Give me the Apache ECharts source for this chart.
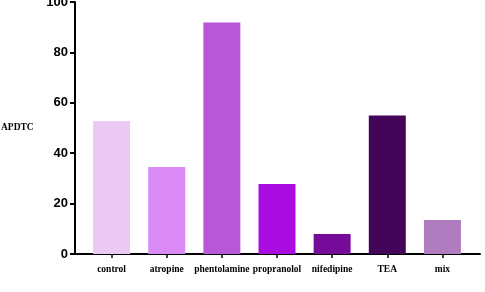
<!DOCTYPE html>
<html><head><meta charset="utf-8">
<script src="https://cdn.jsdelivr.net/npm/echarts@6/dist/echarts.min.js"></script>
<style>html,body{margin:0;padding:0;background:#fff}#c{width:485px;height:292px}</style>
</head><body><div id="c"></div>
<script>
const categories = ['control','atropine','phentolamine','propranolol','nifedipine','TEA','mix'];
const values = [52.8, 34.5, 91.9, 27.8, 7.9, 55.0, 13.5];
const colors = ['#ECC8F5','#DA8AF5','#B857D8','#AA0BE0','#760B9A','#430558','#B07CC0'];
const yTicks = [0, 20, 40, 60, 80, 100];
const yName = 'APDTC';

const chart = echarts.init(document.getElementById('c'), null, {renderer:'canvas'});
chart.setOption({
  animation: false,
  grid: [
    {left: 84, right: 15, top: 2, bottom: 38, outerBoundsMode:'none', containLabel:false},
    {left: 75, right: 5, top: 2, bottom: 38, outerBoundsMode:'none', containLabel:false}
  ],
  xAxis: [
    {type:'category', gridIndex:0, data: categories,
     axisLine:{show:false},
     axisTick:{show:true, alignWithLabel:true, length:4, lineStyle:{color:'#000', width:1.5}},
     axisLabel:{color:'#000', fontFamily:'Liberation Serif', fontWeight:'bold', fontSize:9.5, margin:11, interval:0}},
    {type:'value', gridIndex:1, min:0, max:1,
     axisLine:{show:true, lineStyle:{color:'#000', width:2}},
     axisTick:{show:false}, axisLabel:{show:false}, splitLine:{show:false}}
  ],
  yAxis: [
    {type:'value', gridIndex:0, min:0, max:100, show:false},
    {type:'value', gridIndex:1, min:yTicks[0], max:yTicks[yTicks.length-1], interval:20,
     name: yName, nameLocation:'middle', nameRotate:0, nameGap:74,
     nameTextStyle:{color:'#000', fontFamily:'Liberation Serif', fontWeight:'bold', fontSize:9.5, align:'left'},
     axisLine:{show:true, lineStyle:{color:'#000', width:2}},
     axisTick:{show:true, length:5, lineStyle:{color:'#000', width:2}},
     axisLabel:{color:'#000', fontFamily:'Liberation Sans', fontWeight:'bold', fontSize:13, margin:7},
     splitLine:{show:false}}
  ],
  series: [{
    type:'bar', xAxisIndex:0, yAxisIndex:0,
    barWidth: 37,
    data: values.map((v,i)=>({value:v, itemStyle:{color:colors[i]}}))
  }]
});
</script></body></html>
